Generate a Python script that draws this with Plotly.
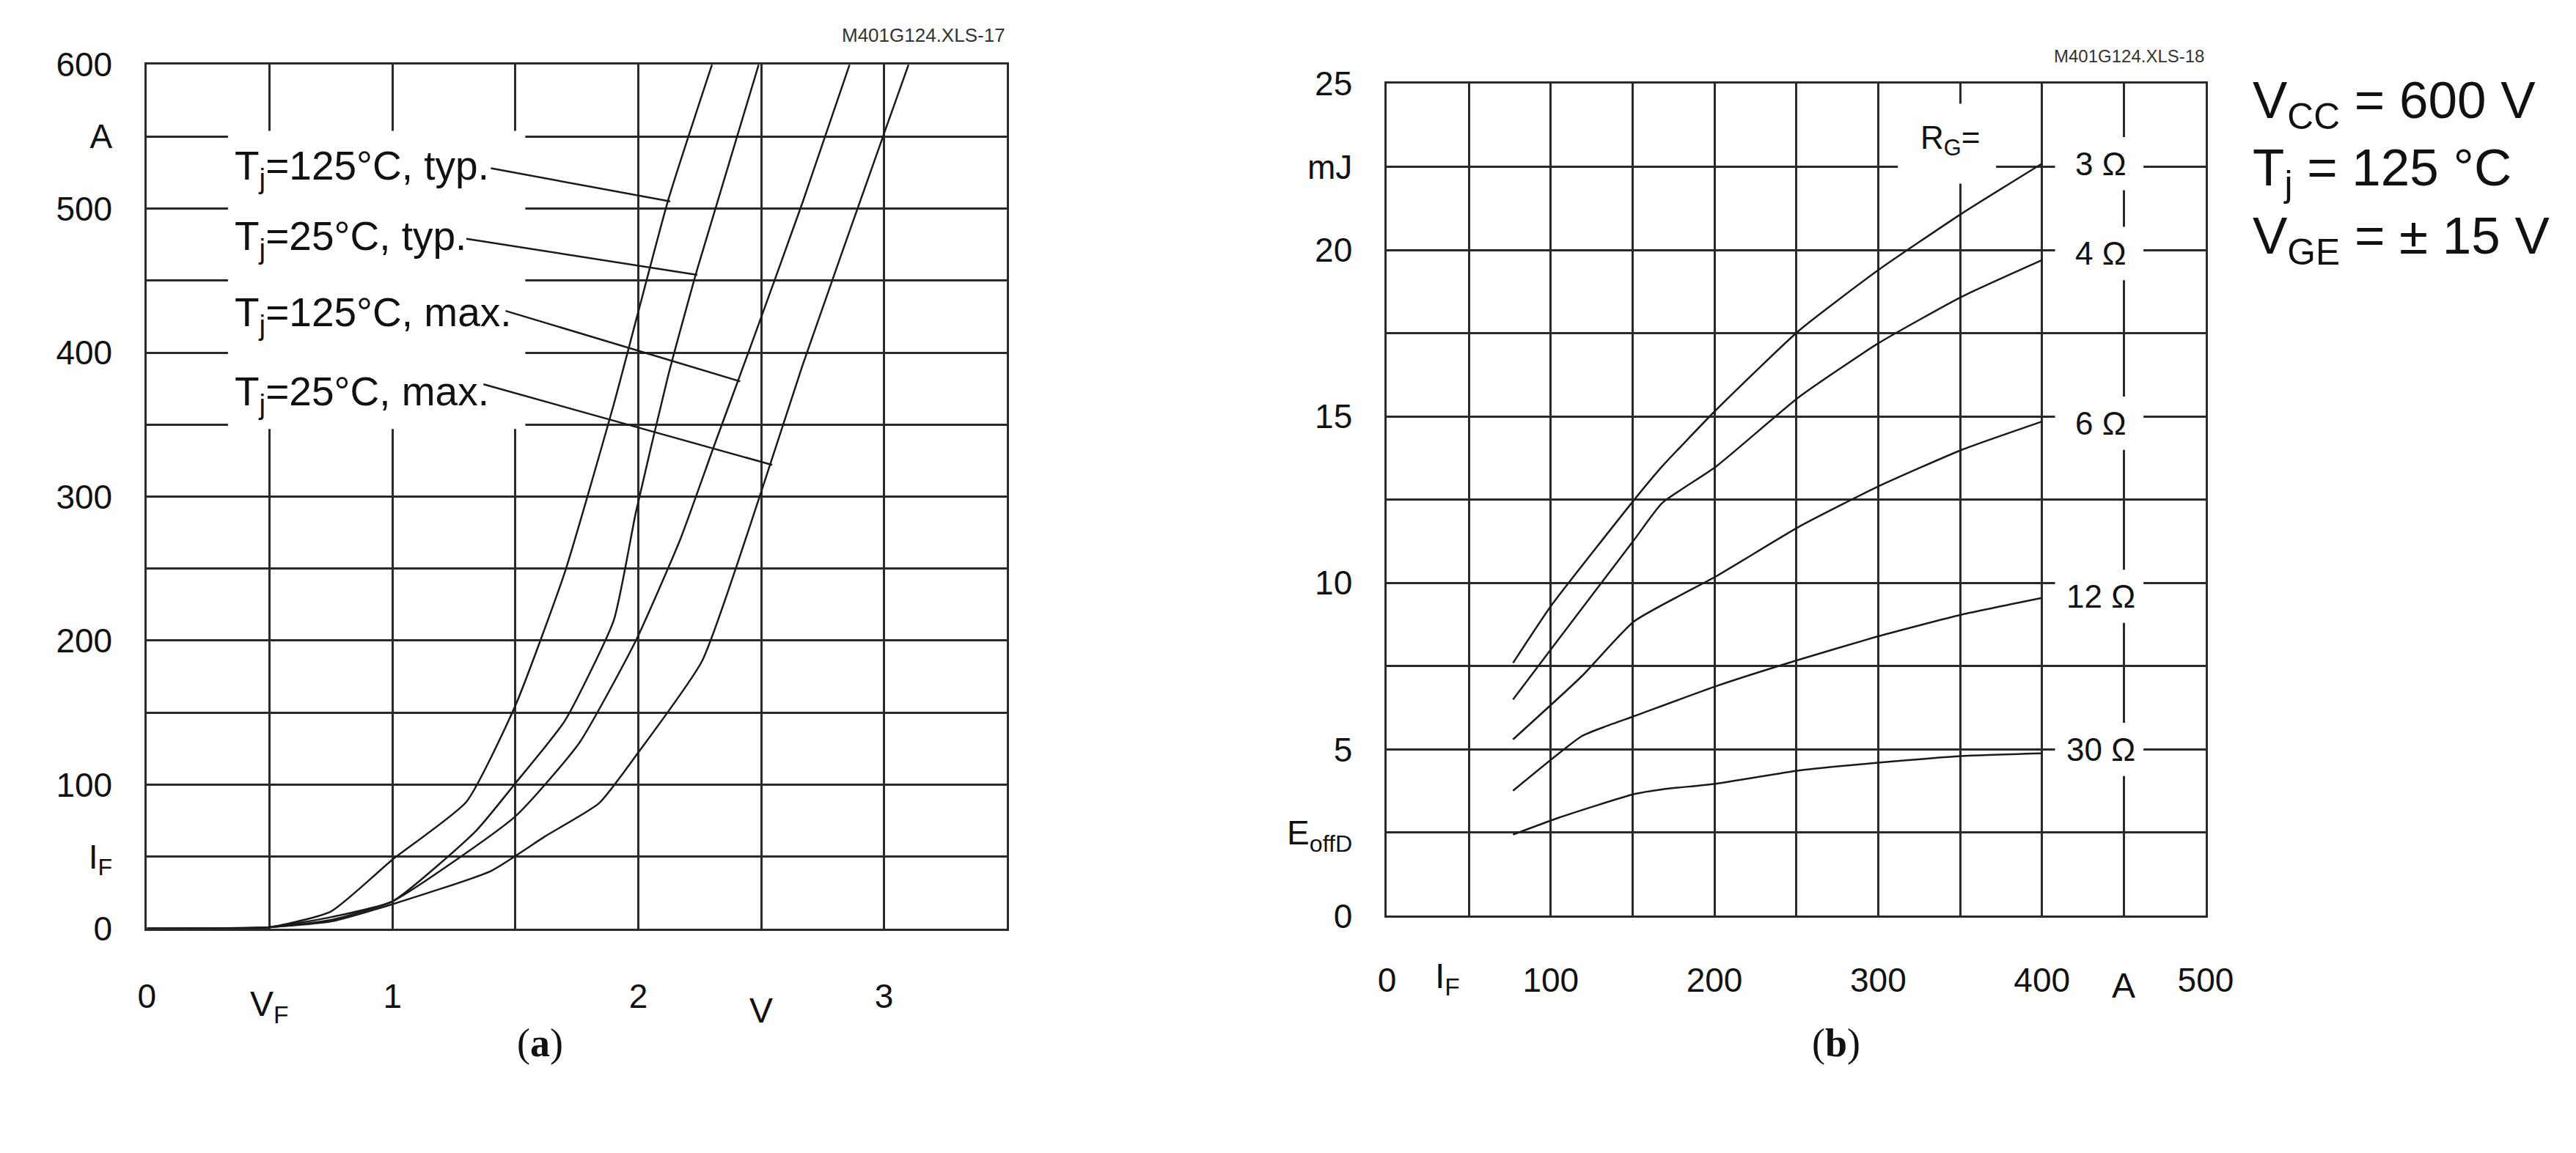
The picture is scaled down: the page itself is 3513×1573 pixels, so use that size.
import plotly.graph_objects as go

# ---- (a) forward characteristic, I_F vs V_F ----
vf_125_typ = [0, 0.5, 0.75, 1.0, 1.3, 1.5, 1.7, 1.9, 2.12, 2.3]
if_125_typ = [0, 1, 12, 48, 88, 155, 247, 364, 505, 600]
vf_25_typ = [0, 0.5, 0.75, 1.0, 1.34, 1.5, 1.7, 1.9, 1.99, 2.12, 2.24, 2.49]
if_25_typ = [0, 1, 8, 19, 68, 101, 144, 214, 289, 383, 458, 600]
vf_125_max = [0, 0.5, 0.75, 1.0, 1.5, 1.76, 1.99, 2.17, 2.31, 2.45, 2.67, 2.86]
if_125_max = [0, 1, 6, 19, 78, 129, 200, 270, 336, 401, 505, 600]
vf_25_max = [0, 0.5, 0.75, 1.0, 1.4, 1.62, 1.84, 1.99, 2.26, 2.49, 2.67, 3.0, 3.1]
if_25_max = [0, 1, 5, 17, 40, 64, 87, 120, 186, 298, 392, 552, 600]

a_labels = ["T<sub>j</sub>=125°C, typ.", "T<sub>j</sub>=25°C, typ.",
            "T<sub>j</sub>=125°C, max.", "T<sub>j</sub>=25°C, max."]
a_label_y = [528, 479, 426, 371]
a_lead_x0 = [1.4, 1.3, 1.46, 1.37]
a_lead_y0 = [528, 479, 429, 378]
a_lead_x1 = [2.13, 2.24, 2.415, 2.545]
a_lead_y1 = [505, 454, 380, 322]

# ---- (b) switching energy E_offD vs I_F ----
if_b = [77, 100, 151, 168, 201, 252, 300, 351, 400]
e_3 = [7.6, 9.3, 12.5, 13.5, 15.2, 17.6, 19.4, 21.1, 22.6]
e_4 = [6.5, 8.0, 11.3, 12.4, 13.5, 15.6, 17.2, 18.6, 19.7]
if_6 = [77, 119, 151, 201, 252, 300, 351, 400]
e_6 = [5.3, 7.2, 8.85, 10.2, 11.7, 12.9, 14.0, 14.85]
if_12 = [77, 119, 134, 151, 201, 252, 300, 351, 400]
e_12 = [3.76, 5.4, 5.7, 6.0, 6.9, 7.7, 8.4, 9.05, 9.55]
if_30 = [77, 105, 151, 168, 201, 252, 300, 351, 400]
e_30 = [2.44, 2.95, 3.66, 3.8, 3.97, 4.37, 4.6, 4.8, 4.88]

rg_labels = ["3 Ω", "4 Ω", "6 Ω", "12 Ω", "30 Ω"]
rg_label_y = [22.6, 19.9, 14.8, 9.6, 5.0]

LINE = "#1a1a1a"
GRID = "#2a2a2a"
FONT = "Liberation Sans, Arial, sans-serif"
W, H = 3513, 1573

fig = go.Figure()

for xs, ys in [(vf_125_typ, if_125_typ), (vf_25_typ, if_25_typ),
               (vf_125_max, if_125_max), (vf_25_max, if_25_max)]:
    fig.add_trace(go.Scatter(x=xs, y=ys, mode="lines", line=dict(color=LINE, width=2.5, shape="spline", smoothing=0.5),
                             xaxis="x", yaxis="y", showlegend=False))
for i in range(4):
    fig.add_trace(go.Scatter(x=[a_lead_x0[i], a_lead_x1[i]], y=[a_lead_y0[i], a_lead_y1[i]], mode="lines",
                             line=dict(color=LINE, width=2.5), xaxis="x", yaxis="y", showlegend=False))

for xs, ys in [(if_b, e_3), (if_b, e_4), (if_6, e_6), (if_12, e_12), (if_30, e_30)]:
    fig.add_trace(go.Scatter(x=xs, y=ys, mode="lines", line=dict(color=LINE, width=2.5, shape="spline", smoothing=0.5),
                             xaxis="x2", yaxis="y2", showlegend=False))

# white patches behind labels (between grid and traces)
fig.add_shape(type="rect", xref="x", yref="y", x0=0.33, x1=1.54, y0=347, y1=554,
              fillcolor="white", line_width=0, layer="between")
fig.add_shape(type="rect", xref="x2", yref="y2", x0=312, x1=372, y0=22.0, y1=24.4,
              fillcolor="white", line_width=0, layer="between")
for yv in rg_label_y:
    fig.add_shape(type="rect", xref="x2", yref="y2", x0=408, x1=462, y0=yv - 0.8, y1=yv + 0.8,
                  fillcolor="white", line_width=0, layer="between")

ann = []
for t, yv in zip(a_labels, a_label_y):
    ann.append(dict(x=0.35, y=yv, xref="x", yref="y", text=t, showarrow=False, xanchor="left",
                    font=dict(size=55, family=FONT, color="#111")))
for t, yv in zip(rg_labels, rg_label_y):
    ann.append(dict(x=436, y=yv, xref="x2", yref="y2", text=t, showarrow=False, xanchor="center",
                    font=dict(size=44, family=FONT, color="#111")))
ann.append(dict(x=344, y=23.3, xref="x2", yref="y2", text="R<sub>G</sub>=", showarrow=False,
                font=dict(size=44, family=FONT, color="#111")))
# axis unit labels
unit_font = dict(size=48, family=FONT, color="#111")
ann.append(dict(x=0.5, y=1 - 1385 / H, xref="x", yref="paper", yanchor="middle", text="V<sub>F</sub>",
                showarrow=False, font=unit_font))
ann.append(dict(x=2.5, y=1 - 1390 / H, xref="x", yref="paper", yanchor="middle", text="V",
                showarrow=False, font=unit_font))
ann.append(dict(x=37, y=1 - 1345 / H, xref="x2", yref="paper", yanchor="middle", text="I<sub>F</sub>",
                showarrow=False, font=unit_font))
ann.append(dict(x=450, y=1 - 1355 / H, xref="x2", yref="paper", yanchor="middle", text="A",
                showarrow=False, font=unit_font))
# file ids
ann.append(dict(x=1372 / W, y=1 - 14 / H, xref="paper", yref="paper", xanchor="right", yanchor="middle",
                text="M401G124.XLS-17", showarrow=False, font=dict(size=26, family=FONT, color="#333")))
ann.append(dict(x=3031 / W, y=1 - 44 / H, xref="paper", yref="paper", xanchor="right", yanchor="middle",
                text="M401G124.XLS-18", showarrow=False, font=dict(size=24, family=FONT, color="#333")))
# conditions
ann.append(dict(x=3094 / W, y=1 - 63 / H, xref="paper", yref="paper", xanchor="left", yanchor="top",
                align="left", showarrow=False,
                text="V<sub>CC</sub> = 600 V<br>T<sub>j</sub> = 125 °C<br>V<sub>GE</sub> = ± 15 V",
                font=dict(size=71, family=FONT, color="#111")))
# panel captions
for xp, t in [(692, "(<b>a</b>)"), (2555, "(<b>b</b>)")]:
    ann.append(dict(x=xp / W, y=1 - 1470 / H, xref="paper", yref="paper", text=t, showarrow=False,
                    font=dict(size=54, family="Liberation Serif, Times New Roman, serif", color="#111")))

axis_common = dict(showgrid=True, gridcolor=GRID, gridwidth=3, showline=True, linecolor=GRID, linewidth=3,
                   mirror=True, zeroline=False, ticks="", tickfont=dict(size=46, family=FONT, color="#111"))

fig.update_layout(
    width=W, height=H, paper_bgcolor="white", plot_bgcolor="white",
    margin=dict(l=0, r=0, t=0, b=0), showlegend=False, annotations=ann,
    xaxis=dict(domain=[182 / W, 1372 / W], range=[0, 3.5], tickvals=[0, 1, 2, 3],
               ticklabelstandoff=50, anchor="y",
               minor=dict(showgrid=True, dtick=0.5, tick0=0, gridcolor=GRID, gridwidth=3), **axis_common),
    yaxis=dict(domain=[1 - 1275 / H, 1 - 56 / H], range=[0, 600],
               tickvals=[0, 50, 100, 150, 200, 250, 300, 350, 400, 450, 500, 550, 600],
               ticktext=["0", "I<sub>F</sub>", "100", "", "200", "", "300", "", "400", "", "500", "A", "600"],
               ticklabelstandoff=35, anchor="x", **axis_common),
    xaxis2=dict(domain=[1898 / W, 3031 / W], range=[0, 500],
                tickvals=[0, 50, 100, 150, 200, 250, 300, 350, 400, 450, 500],
                ticktext=["0", "", "100", "", "200", "", "300", "", "400", "", "500"],
                ticklabelstandoff=45, anchor="y2", **axis_common),
    yaxis2=dict(domain=[1 - 1257 / H, 1 - 83 / H], range=[0, 25],
                tickvals=[0, 2.5, 5, 7.5, 10, 12.5, 15, 17.5, 20, 22.5, 25],
                ticktext=["0", "E<sub>offD</sub>", "5", "", "10", "", "15", "", "20", "mJ", "25"],
                ticklabelstandoff=35, anchor="x2", **axis_common),
)

fig.write_html("out.html")
